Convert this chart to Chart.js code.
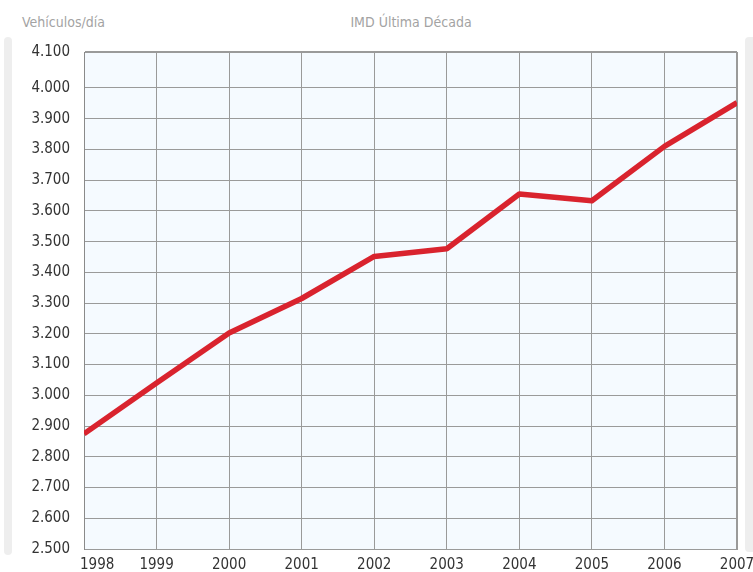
<!DOCTYPE html>
<html>
<head>
<meta charset="utf-8">
<script src="https://cdn.jsdelivr.net/npm/chart.js@4.4.1/dist/chart.umd.min.js"></script>
<style>
    html, body { margin: 0; padding: 0; background: #fff; }
    #wrap { position: relative; width: 753px; height: 572px; overflow: hidden; }
    .side-bar { position: absolute; background: #eeeeee; border-radius: 4px; }
    .caption { position: absolute; top: 14px; font: 14px 'DejaVu Sans Condensed', sans-serif; color: #a3a3a3; white-space: nowrap; }
    canvas { position: absolute; left: 0; top: 0; }
</style>
</head>
<body>
<div id="wrap">
    <div class="side-bar" style="left:4px;top:37px;width:8px;height:518px"></div>
    <div class="side-bar" style="left:745px;top:37px;width:14px;height:515px"></div>
    <div class="caption" style="left:22px">Vehículos/día</div>
    <div class="caption" style="left:411px;transform:translateX(-50%)">IMD Última Década</div>
    <canvas id="chart" width="753" height="572"></canvas>
</div>
<script>
// Data
var years = ['1998', '1999', '2000', '2001', '2002', '2003', '2004', '2005', '2006', '2007'];
var vehiclesPerDay = [2875, 3040, 3203, 3315, 3452, 3477, 3655, 3633, 3810, 3952];
var yTickValues = [2500, 2600, 2700, 2800, 2900, 3000, 3100, 3200, 3300, 3400, 3500, 3600, 3700, 3800, 3900, 4000, 4100];
var yTickLabels = ['2.500', '2.600', '2.700', '2.800', '2.900', '3.000', '3.100', '3.200', '3.300', '3.400',
                   '3.500', '3.600', '3.700', '3.800', '3.900', '4.000', '4.100'];

(function() {
    'use strict';

    var tickFont = { family: "'DejaVu Sans Condensed', sans-serif", size: 15 };

    // Light blue fill behind the plot
    var plotBackground = {
        id: 'plotBackground',
        beforeDraw: function(chart) {
            var a = chart.chartArea;
            var ctx = chart.ctx;
            ctx.save();
            ctx.fillStyle = '#f5faff';
            ctx.fillRect(a.left, a.top, a.right - a.left, a.bottom - a.top);
            ctx.restore();
        }
    };

    // First year label sits inside the plot instead of centred on the edge
    var firstLabelInside = {
        id: 'firstLabelInside',
        beforeDraw: function(chart) {
            var scale = chart.scales.x;
            var items = scale.getLabelItems(chart.chartArea);
            if (items.length) {
                items[0].options.textAlign = 'left';
                items[0].options.translation[0] = chart.chartArea.left - 4;
            }
        }
    };

    new Chart(document.getElementById('chart'), {
        type: 'line',
        data: {
            labels: years,
            datasets: [{
                data: vehiclesPerDay,
                borderColor: '#d9232e',
                borderWidth: 5.5,
                borderJoinStyle: 'round',
                pointRadius: 0,
                tension: 0,
                fill: false,
                clip: 0
            }]
        },
        options: {
            responsive: false,
            animation: false,
            layout: { padding: { top: 52, right: 16, bottom: 0, left: 0 } },
            plugins: {
                legend: { display: false },
                tooltip: { enabled: false }
            },
            scales: {
                x: {
                    type: 'category',
                    offset: false,
                    grid: {
                        offset: false,
                        drawTicks: false,
                        color: '#9a9a9a',
                        lineWidth: function(ctx) { return ctx.index === years.length - 1 ? 2 : 1; }
                    },
                    border: { color: '#9a9a9a', width: 1 },
                    ticks: {
                        font: tickFont,
                        color: '#333333',
                        padding: 7,
                        maxRotation: 0,
                        autoSkip: false
                    },
                    afterFit: function(s) {
                        s.height = 23;
                        s.paddingLeft = 0;
                        s.paddingRight = 0;
                    }
                },
                y: {
                    min: 2500,
                    // the top band of the source is a little taller than the others
                    max: 4117,
                    grid: {
                        drawTicks: false,
                        color: '#9a9a9a',
                        lineWidth: function(ctx) { return ctx.index === yTickValues.length - 1 ? 2 : 1; }
                    },
                    border: { color: '#8a8a8a', width: 1 },
                    afterBuildTicks: function(scale) {
                        scale.ticks = yTickValues.map(function(v, i) {
                            return { value: i === yTickValues.length - 1 ? scale.max : v };
                        });
                    },
                    ticks: {
                        font: tickFont,
                        color: '#333333',
                        padding: 14,
                        callback: function(value, index) { return yTickLabels[index]; }
                    },
                    afterFit: function(s) {
                        s.width = 84;
                        s.paddingTop = 0;
                        s.paddingBottom = 0;
                    }
                }
            }
        },
        plugins: [plotBackground, firstLabelInside]
    });
})();
</script>
</body>
</html>
